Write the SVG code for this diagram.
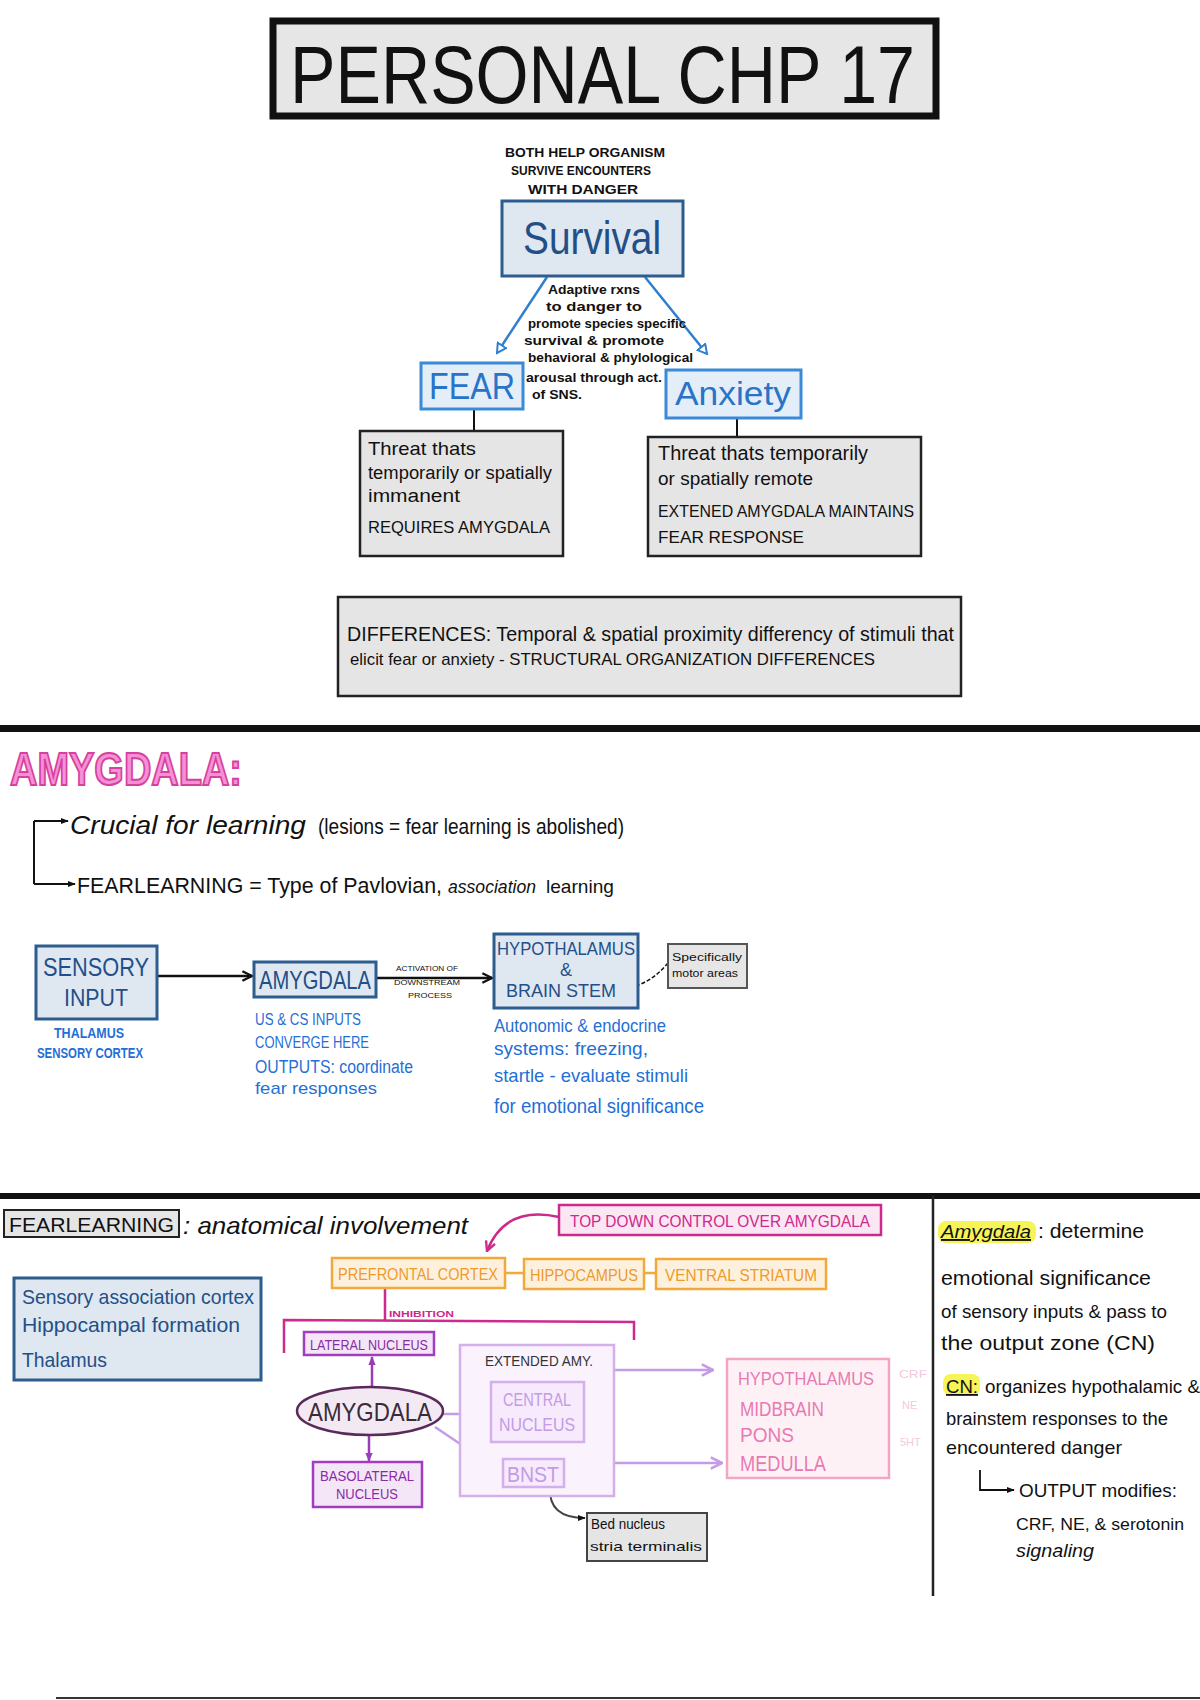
<svg xmlns="http://www.w3.org/2000/svg" width="1200" height="1700" viewBox="0 0 1200 1700">
<style>
text{font-family:"Liberation Sans","DejaVu Sans",sans-serif;}
.blk{fill:#111;}
.bbox{fill:#dfe7f1;stroke:#2c5d8e;stroke-width:3;}
.gbox{fill:#e5e5e5;stroke:#222;stroke-width:2.5;}
.btxt{fill:#234f88;}
.lblue{fill:#1f6fd6;}
.obox{fill:#fdf1de;stroke:#f2a93b;stroke-width:2.5;}
.otxt{fill:#ef9a2a;}
.pbox{fill:#f4e6f6;stroke:#a23dbf;stroke-width:2.5;}
.ptxt{fill:#8a2aa8;}
.lbox{fill:#faf3fd;stroke:#d3b0ea;stroke-width:2.5;}
.pinkbox{fill:#fdf1f6;stroke:#f1a6c6;stroke-width:2.5;}
.ln{stroke:#111;stroke-width:2;fill:none;}
</style>
<defs>
<marker id="openB" viewBox="0 0 12 12" refX="10" refY="6" markerWidth="12" markerHeight="12" orient="auto" markerUnits="userSpaceOnUse"><path d="M1,1 L10,6 L1,11 Z" fill="#fff" stroke="#2f7fd0" stroke-width="2"/></marker>
<marker id="arrK" viewBox="0 0 10 10" refX="9" refY="5" markerWidth="12" markerHeight="12" orient="auto" markerUnits="userSpaceOnUse"><path d="M1,1 L9,5 L1,9" fill="none" stroke="#111" stroke-width="2"/></marker>
<marker id="arrKs" viewBox="0 0 10 10" refX="9" refY="5" markerWidth="8" markerHeight="8" orient="auto" markerUnits="userSpaceOnUse"><path d="M0,1 L10,5 L0,9 Z" fill="#111"/></marker>
<marker id="arrL" viewBox="0 0 10 10" refX="9" refY="5" markerWidth="14" markerHeight="14" orient="auto" markerUnits="userSpaceOnUse"><path d="M1,1 L9,5 L1,9" fill="none" stroke="#c49be6" stroke-width="1.8"/></marker>
<marker id="arrP" viewBox="0 0 10 10" refX="9" refY="5" markerWidth="9" markerHeight="9" orient="auto" markerUnits="userSpaceOnUse"><path d="M0,1 L10,5 L0,9 Z" fill="#9a3bb8"/></marker>
<marker id="arrM" viewBox="0 0 10 10" refX="9" refY="5" markerWidth="12" markerHeight="12" orient="auto" markerUnits="userSpaceOnUse"><path d="M1,1 L9,5 L1,9" fill="none" stroke="#cc2a8c" stroke-width="2"/></marker>
</defs>
<rect width="1200" height="1700" fill="#fff"/>

<!-- Title -->
<g id="title">
<rect x="273" y="21" width="663" height="95" fill="#e6e6e6" stroke="#111" stroke-width="7"/>
<text x="290" y="103" font-size="82" class="blk" textLength="625" lengthAdjust="spacingAndGlyphs">PERSONAL CHP 17</text>
</g>

<!-- dividers -->
<g id="dividers">
<rect x="0" y="725" width="1200" height="7" fill="#111"/>
<rect x="0" y="1193" width="1200" height="6" fill="#111"/>
<line x1="933" y1="1196" x2="933" y2="1596" stroke="#222" stroke-width="2.5"/>
<line x1="56" y1="1698" x2="1200" y2="1698" stroke="#333" stroke-width="2"/>
</g>

<g id="connectors">
<line x1="547" y1="277" x2="497" y2="353" stroke="#2f7fd0" stroke-width="2.5" marker-end="url(#openB)"/>
<line x1="645" y1="277" x2="707" y2="354" stroke="#2f7fd0" stroke-width="2.5" marker-end="url(#openB)"/>
<line x1="474" y1="409" x2="474" y2="430" class="ln"/>
<line x1="737" y1="418" x2="737" y2="436" class="ln"/>
<path d="M34,821 L34,884" class="ln"/>
<path d="M34,821 L68,821" class="ln" marker-end="url(#arrKs)"/>
<path d="M34,884 L75,884" class="ln" marker-end="url(#arrKs)"/>
<line x1="157" y1="976" x2="252" y2="976" stroke="#111" stroke-width="2.5" marker-end="url(#arrK)"/>
<line x1="377" y1="978" x2="492" y2="978" stroke="#111" stroke-width="2.5" marker-end="url(#arrK)"/>
<path d="M668,963 Q650,985 623,989" stroke="#111" stroke-width="1.5" fill="none" stroke-dasharray="4,2" marker-end="url(#arrKs)"/>
<path d="M559,1217 Q505,1205 487,1251" stroke="#cc2a8c" stroke-width="2.5" fill="none" marker-end="url(#arrM)"/>
<line x1="505" y1="1273" x2="524" y2="1273" stroke="#f2a93b" stroke-width="2.5"/>
<line x1="644" y1="1273" x2="656" y2="1273" stroke="#f2a93b" stroke-width="2.5"/>
<path d="M385,1288 L385,1320 M284,1353 L284,1320 L634,1322 L634,1340" stroke="#cc2a8c" stroke-width="2.5" fill="none"/>
<line x1="372" y1="1387" x2="372" y2="1357" stroke="#9a3bb8" stroke-width="2.5" marker-end="url(#arrP)"/>
<line x1="369" y1="1435" x2="369" y2="1461" stroke="#9a3bb8" stroke-width="2.5" marker-end="url(#arrP)"/>
<line x1="443" y1="1414" x2="483" y2="1414" stroke="#c49be6" stroke-width="2.5" marker-end="url(#arrL)"/>
<line x1="435" y1="1427" x2="496" y2="1468" stroke="#c49be6" stroke-width="2.5" marker-end="url(#arrL)"/>
<line x1="596" y1="1370" x2="713" y2="1370" stroke="#c49be6" stroke-width="2.5" marker-end="url(#arrL)"/>
<line x1="598" y1="1463" x2="722" y2="1463" stroke="#c49be6" stroke-width="2.5" marker-end="url(#arrL)"/>
<path d="M550,1487 Q548,1518 585,1518" stroke="#444" stroke-width="2" fill="none" marker-end="url(#arrKs)"/>
<path d="M980,1470 L980,1490 L1014,1490" stroke="#111" stroke-width="1.8" fill="none" marker-end="url(#arrKs)"/>
</g>

<!-- top section -->
<g id="survive-note">
<text x="585" y="157" font-size="13" font-weight="bold" class="blk" text-anchor="middle" textLength="160" lengthAdjust="spacingAndGlyphs">BOTH HELP ORGANISM</text>
<text x="581" y="175" font-size="13" font-weight="bold" class="blk" text-anchor="middle" textLength="140" lengthAdjust="spacingAndGlyphs">SURVIVE ENCOUNTERS</text>
<text x="583" y="194" font-size="13" font-weight="bold" class="blk" text-anchor="middle" textLength="110" lengthAdjust="spacingAndGlyphs">WITH DANGER</text>
</g>
<g id="survival">
<rect x="502" y="201" width="181" height="75" class="bbox"/>
<text x="592" y="254" font-size="46" class="btxt" text-anchor="middle" textLength="138" lengthAdjust="spacingAndGlyphs">Survival</text>
</g>
<g id="adaptive-note">
<text x="548" y="294" font-size="13" font-weight="bold" class="blk" textLength="92" lengthAdjust="spacingAndGlyphs">Adaptive rxns</text>
<text x="546" y="311" font-size="13" font-weight="bold" class="blk" textLength="96" lengthAdjust="spacingAndGlyphs">to danger to</text>
<text x="528" y="328" font-size="13" font-weight="bold" class="blk" textLength="158" lengthAdjust="spacingAndGlyphs">promote species specific</text>
<text x="524" y="345" font-size="13" font-weight="bold" class="blk" textLength="140" lengthAdjust="spacingAndGlyphs">survival &amp; promote</text>
<text x="528" y="362" font-size="13" font-weight="bold" class="blk" textLength="165" lengthAdjust="spacingAndGlyphs">behavioral &amp; phylological</text>
<text x="526" y="382" font-size="13" font-weight="bold" class="blk" textLength="136" lengthAdjust="spacingAndGlyphs">arousal through act.</text>
<text x="532" y="399" font-size="13" font-weight="bold" class="blk" textLength="50" lengthAdjust="spacingAndGlyphs">of SNS.</text>
</g>
<g id="fear">
<rect x="421" y="363" width="102" height="46" class="bbox" style="fill:#e4eef9;stroke:#3b8ad6"/>
<text x="472" y="399" font-size="36" text-anchor="middle" fill="#2a74c8" textLength="86" lengthAdjust="spacingAndGlyphs">FEAR</text>
</g>
<g id="anxiety">
<rect x="666" y="370" width="135" height="48" class="bbox" style="fill:#e4eef9;stroke:#3b8ad6"/>
<text x="733" y="405" font-size="34" text-anchor="middle" fill="#2a74c8" textLength="116" lengthAdjust="spacingAndGlyphs">Anxiety</text>
</g>
<g id="fear-detail">
<rect x="360" y="431" width="203" height="125" class="gbox"/>
<text x="368" y="455" font-size="19" class="blk" textLength="108" lengthAdjust="spacingAndGlyphs">Threat thats</text>
<text x="368" y="479" font-size="18" class="blk" textLength="184" lengthAdjust="spacingAndGlyphs">temporarily or spatially</text>
<text x="368" y="502" font-size="18" class="blk" textLength="92" lengthAdjust="spacingAndGlyphs">immanent</text>
<text x="368" y="533" font-size="17" class="blk" textLength="182" lengthAdjust="spacingAndGlyphs">REQUIRES AMYGDALA</text>
</g>
<g id="anxiety-detail">
<rect x="648" y="437" width="273" height="119" class="gbox"/>
<text x="658" y="460" font-size="20" class="blk" textLength="210" lengthAdjust="spacingAndGlyphs">Threat thats temporarily</text>
<text x="658" y="485" font-size="19" class="blk" textLength="155" lengthAdjust="spacingAndGlyphs">or spatially remote</text>
<text x="658" y="517" font-size="17" class="blk" textLength="256" lengthAdjust="spacingAndGlyphs">EXTENED AMYGDALA MAINTAINS</text>
<text x="658" y="543" font-size="17" class="blk" textLength="146" lengthAdjust="spacingAndGlyphs">FEAR RESPONSE</text>
</g>
<g id="differences">
<rect x="338" y="597" width="623" height="99" class="gbox"/>
<text x="347" y="641" font-size="21" class="blk" textLength="607" lengthAdjust="spacingAndGlyphs">DIFFERENCES: Temporal &amp; spatial proximity differency of stimuli that</text>
<text x="350" y="665" font-size="17" class="blk" textLength="525" lengthAdjust="spacingAndGlyphs">elicit fear or anxiety - STRUCTURAL ORGANIZATION DIFFERENCES</text>
</g>

<!-- Amygdala section -->
<g id="amygdala-heading">
<text x="10" y="785" font-size="46" font-weight="bold" fill="#f590d6" stroke="#d6409e" stroke-width="2" textLength="232" lengthAdjust="spacingAndGlyphs">AMYGDALA:</text>
</g>
<g id="crucial">
<text x="70" y="834" font-size="26" font-style="italic" class="blk" textLength="236" lengthAdjust="spacingAndGlyphs">Crucial for learning</text>
<text x="318" y="834" font-size="22" class="blk" textLength="306" lengthAdjust="spacingAndGlyphs">(lesions = fear learning is abolished)</text>
</g>
<g id="fearlearning-def">
<text x="77" y="893" font-size="22" class="blk" textLength="365" lengthAdjust="spacingAndGlyphs">FEARLEARNING = Type of Pavlovian,</text>
<text x="448" y="893" font-size="18" font-style="italic" class="blk" textLength="88" lengthAdjust="spacingAndGlyphs">association</text>
<text x="546" y="893" font-size="19" class="blk" textLength="68" lengthAdjust="spacingAndGlyphs">learning</text>
</g>
<g id="sensory-input">
<rect x="36" y="946" width="121" height="73" class="bbox"/>
<text x="96" y="976" font-size="25" class="btxt" text-anchor="middle" textLength="106" lengthAdjust="spacingAndGlyphs">SENSORY</text>
<text x="96" y="1006" font-size="24" class="btxt" text-anchor="middle" textLength="64" lengthAdjust="spacingAndGlyphs">INPUT</text>
<text x="89" y="1038" font-size="14" font-weight="bold" class="lblue" text-anchor="middle" textLength="70" lengthAdjust="spacingAndGlyphs">THALAMUS</text>
<text x="90" y="1058" font-size="14" font-weight="bold" class="lblue" text-anchor="middle" textLength="106" lengthAdjust="spacingAndGlyphs">SENSORY CORTEX</text>
</g>
<g id="amygdala-box">
<rect x="254" y="962" width="122" height="35" class="bbox"/>
<text x="315" y="989" font-size="25" class="btxt" text-anchor="middle" textLength="112" lengthAdjust="spacingAndGlyphs">AMYGDALA</text>
<text x="255" y="1025" font-size="16" class="lblue" textLength="106" lengthAdjust="spacingAndGlyphs">US &amp; CS INPUTS</text>
<text x="255" y="1048" font-size="16" class="lblue" textLength="114" lengthAdjust="spacingAndGlyphs">CONVERGE HERE</text>
<text x="255" y="1073" font-size="18" class="lblue" textLength="158" lengthAdjust="spacingAndGlyphs">OUTPUTS: coordinate</text>
<text x="255" y="1094" font-size="17" class="lblue" textLength="122" lengthAdjust="spacingAndGlyphs">fear responses</text>
</g>
<g id="activation-label">
<text x="427" y="971" font-size="8" class="blk" text-anchor="middle" textLength="62" lengthAdjust="spacingAndGlyphs">ACTIVATION OF</text>
<text x="427" y="985" font-size="8" class="blk" text-anchor="middle" textLength="66" lengthAdjust="spacingAndGlyphs">DOWNSTREAM</text>
<text x="430" y="998" font-size="8" class="blk" text-anchor="middle" textLength="44" lengthAdjust="spacingAndGlyphs">PROCESS</text>
</g>
<g id="hypothalamus-brainstem">
<rect x="494" y="934" width="144" height="74" class="bbox"/>
<text x="566" y="955" font-size="18" class="btxt" text-anchor="middle" textLength="138" lengthAdjust="spacingAndGlyphs">HYPOTHALAMUS</text>
<text x="566" y="976" font-size="18" class="btxt" text-anchor="middle">&amp;</text>
<text x="561" y="997" font-size="18" class="btxt" text-anchor="middle" textLength="110" lengthAdjust="spacingAndGlyphs">BRAIN STEM</text>
<text x="494" y="1032" font-size="18" class="lblue" textLength="172" lengthAdjust="spacingAndGlyphs">Autonomic &amp; endocrine</text>
<text x="494" y="1055" font-size="19" class="lblue" textLength="154" lengthAdjust="spacingAndGlyphs">systems: freezing,</text>
<text x="494" y="1082" font-size="19" class="lblue" textLength="194" lengthAdjust="spacingAndGlyphs">startle - evaluate stimuli</text>
<text x="494" y="1113" font-size="21" class="lblue" textLength="210" lengthAdjust="spacingAndGlyphs">for emotional significance</text>
</g>
<g id="motor-area">
<rect x="668" y="944" width="79" height="44" class="gbox" style="stroke-width:2;stroke:#555;fill:#e6e6e6"/>
<text x="672" y="961" font-size="11" class="blk" textLength="70" lengthAdjust="spacingAndGlyphs">Specifically</text>
<text x="672" y="977" font-size="11" class="blk" textLength="66" lengthAdjust="spacingAndGlyphs">motor areas</text>
</g>

<!-- Fear learning section -->
<g id="fearlearning-heading">
<rect x="4" y="1210" width="175" height="27" class="gbox" style="stroke-width:2"/>
<text x="9" y="1232" font-size="21" class="blk" textLength="165" lengthAdjust="spacingAndGlyphs">FEARLEARNING</text>
<text x="183" y="1234" font-size="24" font-style="italic" class="blk" textLength="285" lengthAdjust="spacingAndGlyphs">: anatomical involvement</text>
</g>
<g id="top-down">
<rect x="559" y="1205" width="322" height="30" fill="#fbe6f3" stroke="#cc2a8c" stroke-width="2.5"/>
<text x="720" y="1227" font-size="17" fill="#cc2a8c" text-anchor="middle" textLength="300" lengthAdjust="spacingAndGlyphs">TOP DOWN CONTROL OVER AMYGDALA</text>
</g>
<g id="pfc">
<rect x="332" y="1258" width="173" height="30" class="obox"/>
<text x="418" y="1280" font-size="16" class="otxt" text-anchor="middle" textLength="160" lengthAdjust="spacingAndGlyphs">PREFRONTAL CORTEX</text>
</g>
<g id="hippocampus">
<rect x="524" y="1259" width="120" height="30" class="obox"/>
<text x="584" y="1281" font-size="16" class="otxt" text-anchor="middle" textLength="108" lengthAdjust="spacingAndGlyphs">HIPPOCAMPUS</text>
</g>
<g id="ventral-striatum">
<rect x="656" y="1259" width="170" height="30" class="obox"/>
<text x="741" y="1281" font-size="16" class="otxt" text-anchor="middle" textLength="152" lengthAdjust="spacingAndGlyphs">VENTRAL STRIATUM</text>
</g>
<g id="sensory-assoc">
<rect x="14" y="1278" width="247" height="102" class="bbox"/>
<text x="22" y="1304" font-size="21" class="btxt" textLength="232" lengthAdjust="spacingAndGlyphs">Sensory association cortex</text>
<text x="22" y="1332" font-size="21" class="btxt" textLength="218" lengthAdjust="spacingAndGlyphs">Hippocampal formation</text>
<text x="22" y="1367" font-size="21" class="btxt" textLength="85" lengthAdjust="spacingAndGlyphs">Thalamus</text>
</g>
<g id="inhibition-label">
<text x="389" y="1317" font-size="9" font-weight="bold" fill="#cc2a8c" textLength="65" lengthAdjust="spacingAndGlyphs">INHIBITION</text>
</g>
<g id="lateral-nucleus">
<rect x="304" y="1332" width="130" height="23" class="pbox"/>
<text x="369" y="1350" font-size="14" class="ptxt" text-anchor="middle" textLength="118" lengthAdjust="spacingAndGlyphs">LATERAL NUCLEUS</text>
</g>
<g id="amygdala-node">
<ellipse cx="370" cy="1411" rx="73" ry="24" fill="#f3e9f3" stroke="#5a2a5a" stroke-width="2.5"/>
<text x="370" y="1421" font-size="25" fill="#3a2a3a" text-anchor="middle" textLength="124" lengthAdjust="spacingAndGlyphs">AMYGDALA</text>
</g>
<g id="basolateral">
<rect x="313" y="1462" width="109" height="45" class="pbox"/>
<text x="367" y="1481" font-size="14" class="ptxt" text-anchor="middle" textLength="94" lengthAdjust="spacingAndGlyphs">BASOLATERAL</text>
<text x="367" y="1499" font-size="14" class="ptxt" text-anchor="middle" textLength="62" lengthAdjust="spacingAndGlyphs">NUCLEUS</text>
</g>
<g id="extended-amy">
<rect x="460" y="1345" width="154" height="151" class="lbox"/>
<text x="539" y="1366" font-size="14" fill="#333" text-anchor="middle" textLength="108" lengthAdjust="spacingAndGlyphs">EXTENDED AMY.</text>
</g>
<g id="central-nucleus">
<rect x="491" y="1382" width="93" height="60" class="lbox" style="fill:#f6eafc"/>
<text x="537" y="1406" font-size="18" fill="#c49be6" text-anchor="middle" textLength="68" lengthAdjust="spacingAndGlyphs">CENTRAL</text>
<text x="537" y="1431" font-size="18" fill="#c49be6" text-anchor="middle" textLength="76" lengthAdjust="spacingAndGlyphs">NUCLEUS</text>
</g>
<g id="bnst">
<rect x="503" y="1459" width="61" height="28" class="lbox" style="fill:#f6eafc"/>
<text x="533" y="1482" font-size="22" fill="#c49be6" text-anchor="middle" textLength="52" lengthAdjust="spacingAndGlyphs">BNST</text>
</g>
<g id="brainstem-outputs">
<rect x="727" y="1359" width="162" height="119" class="pinkbox"/>
<text x="738" y="1385" font-size="19" fill="#e77ab2" textLength="136" lengthAdjust="spacingAndGlyphs">HYPOTHALAMUS</text>
<text x="740" y="1416" font-size="20" fill="#e77ab2" textLength="84" lengthAdjust="spacingAndGlyphs">MIDBRAIN</text>
<text x="740" y="1442" font-size="20" fill="#e77ab2" textLength="54" lengthAdjust="spacingAndGlyphs">PONS</text>
<text x="740" y="1471" font-size="22" fill="#e77ab2" textLength="86" lengthAdjust="spacingAndGlyphs">MEDULLA</text>
<text x="899" y="1378" font-size="11" fill="#f5c8dc" textLength="28" lengthAdjust="spacingAndGlyphs">CRF</text>
<text x="902" y="1409" font-size="11" fill="#f5c8dc">NE</text>
<text x="900" y="1446" font-size="11" fill="#f5c8dc">5HT</text>
</g>
<g id="bed-nucleus">
<rect x="587" y="1513" width="120" height="48" class="gbox" style="stroke-width:2;stroke:#444"/>
<text x="591" y="1529" font-size="14" class="blk" textLength="74" lengthAdjust="spacingAndGlyphs">Bed nucleus</text>
<text x="590" y="1551" font-size="13" class="blk" textLength="112" lengthAdjust="spacingAndGlyphs">stria terminalis</text>
</g>

<!-- right notes -->
<g id="right-notes">
<rect x="938" y="1221" width="98" height="22" rx="8" fill="#f4f23a" opacity="0.85"/>
<rect x="943" y="1374" width="37" height="22" rx="8" fill="#f4f23a" opacity="0.85"/>
<text x="941" y="1238" font-size="19" font-style="italic" text-decoration="underline" class="blk" textLength="90" lengthAdjust="spacingAndGlyphs">Amygdala</text>
<text x="1038" y="1238" font-size="20" class="blk" textLength="106" lengthAdjust="spacingAndGlyphs">: determine</text>
<text x="941" y="1285" font-size="21" class="blk" textLength="210" lengthAdjust="spacingAndGlyphs">emotional significance</text>
<text x="941" y="1318" font-size="19" class="blk" textLength="226" lengthAdjust="spacingAndGlyphs">of sensory inputs &amp; pass to</text>
<text x="941" y="1350" font-size="21" class="blk" textLength="214" lengthAdjust="spacingAndGlyphs">the output zone (CN)</text>
<text x="946" y="1393" font-size="18" text-decoration="underline" class="blk" textLength="32" lengthAdjust="spacingAndGlyphs">CN:</text>
<text x="985" y="1393" font-size="18" class="blk" textLength="215" lengthAdjust="spacingAndGlyphs">organizes hypothalamic &amp;</text>
<text x="946" y="1425" font-size="18" class="blk" textLength="222" lengthAdjust="spacingAndGlyphs">brainstem responses to the</text>
<text x="946" y="1454" font-size="19" class="blk" textLength="176" lengthAdjust="spacingAndGlyphs">encountered danger</text>
<text x="1019" y="1497" font-size="18" class="blk" textLength="158" lengthAdjust="spacingAndGlyphs">OUTPUT modifies:</text>
<text x="1016" y="1530" font-size="16" class="blk" textLength="168" lengthAdjust="spacingAndGlyphs">CRF, NE, &amp; serotonin</text>
<text x="1016" y="1557" font-size="19" font-style="italic" class="blk" textLength="78" lengthAdjust="spacingAndGlyphs">signaling</text>
</g>
</svg>
